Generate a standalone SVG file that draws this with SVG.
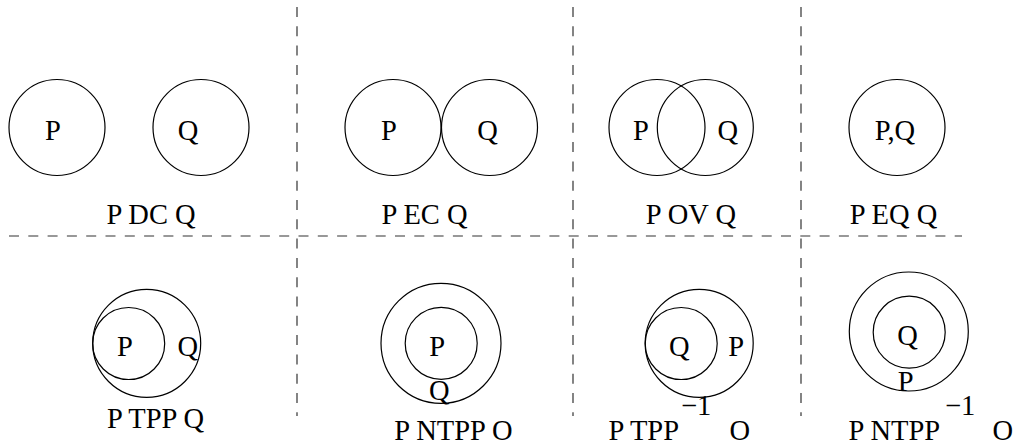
<svg xmlns="http://www.w3.org/2000/svg" width="1016" height="447" viewBox="0 0 1016 447">
  <style>
    .region { fill: none; stroke: #000; stroke-width: 1.2; }
    .grid { fill: none; stroke: #333; stroke-width: 1.2; stroke-dasharray: 10 9.3; }
    text { font-family: "Liberation Serif", "Times New Roman", serif; font-size: 28.5px; fill: #000; }
    .mid { text-anchor: middle; }
  </style>
  <rect width="1016" height="447" fill="#fff"/>

  <!-- dashed separators between the eight relations -->
  <g id="separators">
    <line class="grid" x1="9" y1="236" x2="962" y2="236"/>
    <line class="grid" x1="297" y1="7" x2="297" y2="416"/>
    <line class="grid" x1="573" y1="7" x2="573" y2="416"/>
    <line class="grid" x1="801" y1="7" x2="801" y2="416"/>
  </g>

  <!-- disconnected -->
  <g id="dc">
    <circle class="region" cx="57" cy="127.5" r="48"/>
    <circle class="region" cx="201" cy="127.5" r="48"/>
    <text class="mid" x="53" y="140">P</text>
    <text class="mid" x="188" y="140">Q</text>
    <text class="mid" x="151" y="224">P DC Q</text>
  </g>

  <!-- externally connected -->
  <g id="ec">
    <circle class="region" cx="393" cy="127.5" r="48"/>
    <circle class="region" cx="489.5" cy="127.5" r="48"/>
    <text class="mid" x="389" y="140">P</text>
    <text class="mid" x="487.5" y="140">Q</text>
    <text class="mid" x="424.5" y="224">P EC Q</text>
  </g>

  <!-- partial overlap -->
  <g id="ov">
    <circle class="region" cx="657" cy="127.5" r="48"/>
    <circle class="region" cx="705.3" cy="127.5" r="48"/>
    <text class="mid" x="641" y="140">P</text>
    <text class="mid" x="727.7" y="140">Q</text>
    <text class="mid" x="691" y="224">P OV Q</text>
  </g>

  <!-- equal -->
  <g id="eq">
    <circle class="region" cx="897" cy="127.5" r="48"/>
    <text class="mid" x="895" y="140">P,Q</text>
    <text class="mid" x="893.5" y="224">P EQ Q</text>
  </g>

  <!-- tangential proper part -->
  <g id="tpp">
    <circle class="region" cx="146.7" cy="343.3" r="54"/>
    <circle class="region" cx="128.7" cy="343.5" r="36"/>
    <text class="mid" x="125" y="356">P</text>
    <text class="mid" x="187.7" y="356">Q</text>
    <text class="mid" x="155.5" y="428">P TPP Q</text>
  </g>

  <!-- non-tangential proper part -->
  <g id="ntpp">
    <circle class="region" cx="441" cy="343.3" r="60"/>
    <circle class="region" cx="441.2" cy="343.3" r="36"/>
    <text class="mid" x="437.2" y="356">P</text>
    <text class="mid" x="439.3" y="400">Q</text>
    <text class="mid" x="453.5" y="440">P NTPP O</text>
  </g>

  <!-- inverse tangential proper part -->
  <g id="tppi">
    <circle class="region" cx="699.2" cy="343.3" r="54"/>
    <circle class="region" cx="681.2" cy="343.5" r="36"/>
    <text class="mid" x="679.3" y="356">Q</text>
    <text class="mid" x="736.2" y="356">P</text>
    <text x="608.5" y="440">P TPP</text>
    <text x="681" y="415">−1</text>
    <text x="729.5" y="440">O</text>
  </g>

  <!-- inverse non-tangential proper part -->
  <g id="ntppi">
    <circle class="region" cx="908.8" cy="331.5" r="59.5"/>
    <circle class="region" cx="909.2" cy="332.2" r="36"/>
    <text class="mid" x="907.5" y="345">Q</text>
    <text class="mid" x="905.8" y="390.5">P</text>
    <text x="848.5" y="440">P NTPP</text>
    <text x="945" y="415">−1</text>
    <text x="992.5" y="440">O</text>
  </g>
</svg>
